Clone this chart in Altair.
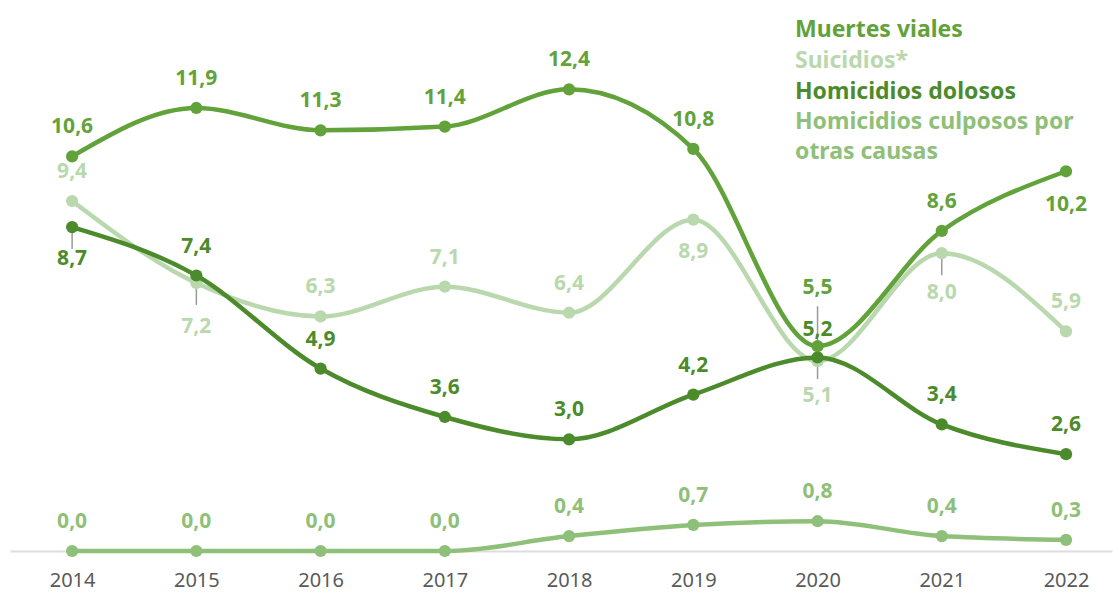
import altair as alt
import pandas as pd

years = [2014, 2015, 2016, 2017, 2018, 2019, 2020, 2021, 2022]
muertes_viales = [10.6, 11.9, 11.3, 11.4, 12.4, 10.8, 5.5, 8.6, 10.2]
suicidios = [9.4, 7.2, 6.3, 7.1, 6.4, 8.9, 5.1, 8.0, 5.9]
homicidios_dolosos = [8.7, 7.4, 4.9, 3.6, 3.0, 4.2, 5.2, 3.4, 2.6]
homicidios_culposos = [0.0, 0.0, 0.0, 0.0, 0.4, 0.7, 0.8, 0.4, 0.3]

series_names = ["Homicidios culposos por otras causas", "Suicidios*",
                "Homicidios dolosos", "Muertes viales"]
series_colors = ["#8fc079", "#bad8ae", "#4c8b2b", "#62a23b"]

# label placement (pixel offset of a label from its point); default: above
label_dy = {
    ("Suicidios*", 2015): 44, ("Suicidios*", 2019): 32, ("Suicidios*", 2020): 35,
    ("Suicidios*", 2021): 40, ("Homicidios dolosos", 2014): 32,
    ("Muertes viales", 2022): 34, ("Muertes viales", 2020): -58,
    ("Homicidios dolosos", 2020): -27,
}
DEFAULT_DY = -29
# short leader lines under these points
leaders = {("Suicidios*", 2015), ("Suicidios*", 2021), ("Homicidios dolosos", 2014)}

values_by_series = {
    "Muertes viales": muertes_viales,
    "Suicidios*": suicidios,
    "Homicidios dolosos": homicidios_dolosos,
    "Homicidios culposos por otras causas": homicidios_culposos,
}

rows = []
for s in series_names:
    for y, v in zip(years, values_by_series[s]):
        rows.append({"serie": s, "anio": y, "valor": v,
                     "dy": label_dy.get((s, y), DEFAULT_DY),
                     "leader": (s, y) in leaders})
df = pd.DataFrame(rows)

FONT = "Noto Sans"
color = alt.Color("serie:N", scale=alt.Scale(domain=series_names, range=series_colors), legend=None)
x = alt.X("anio:Q", scale=alt.Scale(domain=[2013.5, 2022.37], nice=False, zero=False),
          axis=alt.Axis(values=years, format="d", title=None, grid=False, ticks=False,
                        domainColor="#dddddd", domainWidth=2, labelFontSize=20,
                        labelColor="#5a5a5a", labelFont=FONT, labelPadding=19))
y = alt.Y("valor:Q", scale=alt.Scale(domain=[0, 14.8], nice=False), axis=None)

base = alt.Chart(df).encode(x=x, y=y, color=color)

layers = []
for s in series_names:
    sub = base.transform_filter(alt.datum.serie == s)
    layers.append(sub.mark_line(interpolate="monotone", strokeWidth=4.5))
    layers.append(sub.mark_point(filled=True, opacity=1, size=150))

leader_rules = alt.Chart(df).transform_filter(alt.datum.leader).mark_rule(
    color="#9a9a9a", strokeWidth=1.5, yOffset=4, y2Offset=22
).encode(x=x, y=y, y2="valor:Q")

mid = alt.Chart(df).transform_filter(
    (alt.datum.anio == 2020) & (alt.datum.serie == "Muertes viales")
).transform_lookup(
    lookup="anio",
    from_=alt.LookupData(df[df.serie == "Suicidios*"][["anio", "valor"]].rename(columns={"valor": "v2"}),
                         "anio", ["v2"])
).mark_rule(color="#9a9a9a", strokeWidth=1.5, yOffset=-40, y2Offset=18).encode(
    x=x, y=y, y2="v2:Q")

label_layers = []
for dy in sorted(set(df["dy"])):
    label_layers.append(
        alt.Chart(df).transform_filter(alt.datum.dy == dy).transform_calculate(
            lab="replace(format(datum.valor, '.1f'), '.', ',')"
        ).mark_text(font=FONT, fontWeight="bold", fontSize=21, dy=int(dy), baseline="middle")
        .encode(x=x, y=y, color=color, text=alt.Text("lab:N")))

legend_lines = [("Muertes viales", series_colors[3], 37),
                ("Suicidios*", series_colors[1], 68),
                ("Homicidios dolosos", series_colors[2], 99),
                ("Homicidios culposos por", series_colors[0], 129),
                ("otras causas", series_colors[0], 159)]
legend_layers = []
one = pd.DataFrame({"k": [0]})
for txt, col, py in legend_lines:
    legend_layers.append(
        alt.Chart(one).mark_text(font=FONT, fontWeight="bold", fontSize=23, align="left",
                                 baseline="alphabetic", color=col)
        .encode(x=alt.value(785), y=alt.value(py), text=alt.value(txt)))

chart = alt.layer(leader_rules, mid, *layers, *label_layers, *legend_layers).properties(
    width=1102, height=551,
    autosize=alt.AutoSizeParams(type="none"),
    padding={"left": 10, "top": 0, "right": 1, "bottom": 46},
).configure(background="white", view=alt.ViewConfig(strokeWidth=0, stroke="transparent"))

chart.save("out.html", embed_options={"renderer": "svg", "actions": False})
